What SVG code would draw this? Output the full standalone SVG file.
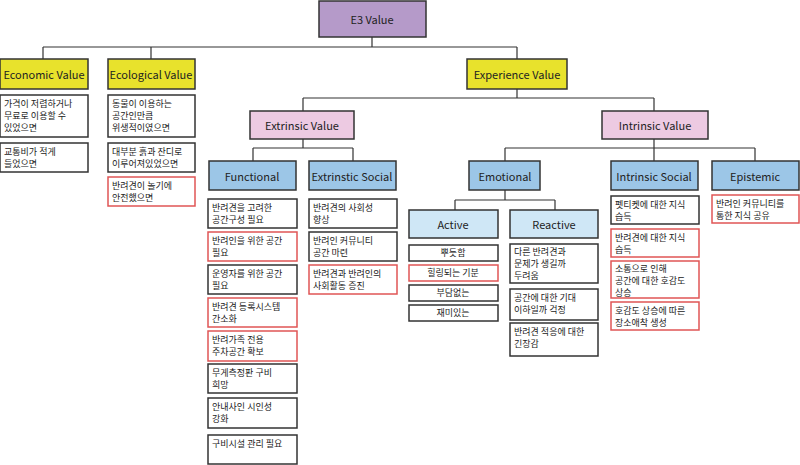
<svg xmlns="http://www.w3.org/2000/svg" width="800" height="465" viewBox="0 0 800 465">
<style>
rect{stroke:#333;stroke-width:1.5}
.p{fill:#b59ac9}.y{fill:#e8e22c}.k{fill:#edcae2}.b{fill:#9cc6e7}.lb{fill:#cfe7f6}
.w{fill:#fff}.r{fill:#fff;stroke:#e05555}
text{font-family:"Noto Sans CJK KR","Noto Sans",sans-serif;fill:#222}
.h{font-size:11px;text-anchor:middle;dominant-baseline:central}
.t{font-size:9px}
.c{fill:none;stroke:#333;stroke-width:1.2}
</style>
<g id="connectors">
<path class="c" d="M372 37V47M43 47H517M43 47V59M151 47V59M517 47V59M517 89V98M303 98H654M303 98V111M654 98V111M303 139V148M253 148H353M253 148V161M353 148V161M654 139V148M505 148H755M505 148V161M654 148V161M755 148V161M505 190V200M455 200H555M455 200V210M555 200V210"/>
</g>
<g id="e3"><rect class="p" x="319" y="1" width="107" height="36"/><text class="h" x="372" y="19">E3 Value</text></g>
<g id="economic"><rect class="y" x="0" y="59" width="88" height="30"/><text class="h" x="44" y="74">Economic Value</text></g>
<g id="ecological"><rect class="y" x="108" y="59" width="87" height="30"/><text class="h" x="151" y="74">Ecological Value</text></g>
<g id="experience"><rect class="y" x="467" y="59" width="100" height="30"/><text class="h" x="517" y="74">Experience Value</text></g>
<g id="extrinsic"><rect class="k" x="250" y="111" width="104" height="28"/><text class="h" x="302" y="125">Extrinsic Value</text></g>
<g id="intrinsic"><rect class="k" x="602" y="111" width="106" height="28"/><text class="h" x="655" y="125">Intrinsic Value</text></g>
<g id="functional"><rect class="b" x="209" y="161" width="87" height="29"/><text class="h" x="252" y="176">Functional</text></g>
<g id="extsocial"><rect class="b" x="309" y="161" width="87" height="29"/><text class="h" x="352" y="176">Extrinstic Social</text></g>
<g id="emotional"><rect class="b" x="469" y="161" width="71" height="29"/><text class="h" x="505" y="176">Emotional</text></g>
<g id="intsocial"><rect class="b" x="611" y="161" width="87" height="29"/><text class="h" x="654" y="176">Intrinsic Social</text></g>
<g id="epistemic"><rect class="b" x="712" y="161" width="87" height="29"/><text class="h" x="755" y="176">Epistemic</text></g>
<g id="active"><rect class="lb" x="409" y="210" width="89" height="28"/><text class="h" x="453" y="224">Active</text></g>
<g id="reactive"><rect class="lb" x="510" y="210" width="88" height="28"/><text class="h" x="554" y="224">Reactive</text></g>

<g id="eco-items">
<rect class="w" x="0" y="95" width="88" height="42"/><text class="t" x="4" y="107">가격이 저렴하거나<tspan x="4" dy="12">무료로 이용할 수</tspan><tspan x="4" dy="12">있었으면</tspan></text>
<rect class="w" x="0" y="143" width="88" height="29"/><text class="t" x="4" y="155">교통비가 적게<tspan x="4" dy="12">들었으면</tspan></text>
</g>
<g id="ecol-items">
<rect class="w" x="108" y="95" width="87" height="42"/><text class="t" x="112" y="107">동물이 이용하는<tspan x="112" dy="12">공간인만큼</tspan><tspan x="112" dy="12">위생적이였으면</tspan></text>
<rect class="w" x="108" y="143" width="87" height="29"/><text class="t" x="112" y="155">대부분 흙과 잔디로<tspan x="112" dy="12">이루어져있었으면</tspan></text>
<rect class="r" x="108" y="177" width="87" height="29"/><text class="t" x="112" y="189">반려견이 놀기에<tspan x="112" dy="12">안전했으면</tspan></text>
</g>
<g id="func-items">
<rect class="w" x="208" y="199" width="89" height="29"/><text class="t" x="212" y="211">반려견을 고려한<tspan x="212" dy="12">공간구성 필요</tspan></text>
<rect class="r" x="208" y="232" width="89" height="29"/><text class="t" x="212" y="244">반려인을 위한 공간<tspan x="212" dy="12">필요</tspan></text>
<rect class="w" x="208" y="265" width="89" height="29"/><text class="t" x="212" y="277">운영자를 위한 공간<tspan x="212" dy="12">필요</tspan></text>
<rect class="r" x="208" y="298" width="89" height="29"/><text class="t" x="212" y="310">반려견 등록시스템<tspan x="212" dy="12">간소화</tspan></text>
<rect class="r" x="208" y="331" width="89" height="30"/><text class="t" x="212" y="343">반려가족 전용<tspan x="212" dy="12">주차공간 확보</tspan></text>
<rect class="w" x="208" y="364" width="89" height="29"/><text class="t" x="212" y="376">무게측정판 구비<tspan x="212" dy="12">희망</tspan></text>
<rect class="w" x="208" y="398" width="89" height="30"/><text class="t" x="212" y="410">안내사인 시인성<tspan x="212" dy="12">강화</tspan></text>
<rect class="w" x="208" y="435" width="89" height="29"/><text class="t" x="212" y="447">구비시설 관리 필요</text>
</g>
<g id="extsoc-items">
<rect class="w" x="309" y="199" width="88" height="29"/><text class="t" x="313" y="211">반려견의 사회성<tspan x="313" dy="12">향상</tspan></text>
<rect class="w" x="309" y="232" width="88" height="29"/><text class="t" x="313" y="244">반려인 커뮤니티<tspan x="313" dy="12">공간 마련</tspan></text>
<rect class="r" x="309" y="265" width="88" height="29"/><text class="t" x="313" y="277">반려견과 반려인의<tspan x="313" dy="12">사회활동 증진</tspan></text>
</g>
<g id="active-items">
<rect class="w" x="409" y="245" width="89" height="16"/><text class="t" x="453" y="256" text-anchor="middle">뿌듯함</text>
<rect class="r" x="409" y="265" width="89" height="16"/><text class="t" x="453" y="276" text-anchor="middle">힐링되는 기분</text>
<rect class="w" x="409" y="285" width="89" height="16"/><text class="t" x="453" y="296" text-anchor="middle">부담없는</text>
<rect class="w" x="409" y="305" width="89" height="16"/><text class="t" x="453" y="316" text-anchor="middle">재미있는</text>
</g>
<g id="reactive-items">
<rect class="w" x="510" y="244" width="88" height="39"/><text class="t" x="514" y="255">다른 반려견과<tspan x="514" dy="12">문제가 생길까</tspan><tspan x="514" dy="12">두려움</tspan></text>
<rect class="w" x="510" y="289" width="88" height="31"/><text class="t" x="514" y="301">공간에 대한 기대<tspan x="514" dy="12">이하일까 걱정</tspan></text>
<rect class="w" x="510" y="323" width="88" height="33"/><text class="t" x="514" y="335">반려견 적응에 대한<tspan x="514" dy="12">긴장감</tspan></text>
</g>
<g id="intsoc-items">
<rect class="w" x="611" y="196" width="88" height="28"/><text class="t" x="615" y="208">펫티켓에 대한 지식<tspan x="615" dy="12">습득</tspan></text>
<rect class="r" x="611" y="229" width="88" height="28"/><text class="t" x="615" y="241">반려견에 대한 지식<tspan x="615" dy="12">습득</tspan></text>
<rect class="r" x="611" y="261" width="88" height="37"/><text class="t" x="615" y="272">소통으로 인해<tspan x="615" dy="12">공간에 대한 호감도</tspan><tspan x="615" dy="12">상승</tspan></text>
<rect class="r" x="611" y="302" width="88" height="28"/><text class="t" x="615" y="314">호감도 상승에 따른<tspan x="615" dy="12">장소애착 생성</tspan></text>
</g>
<g id="epi-items">
<rect class="r" x="712" y="195" width="87" height="28"/><text class="t" x="716" y="207">반려인 커뮤니티를<tspan x="716" dy="12">통한 지식 공유</tspan></text>
</g>
</svg>
